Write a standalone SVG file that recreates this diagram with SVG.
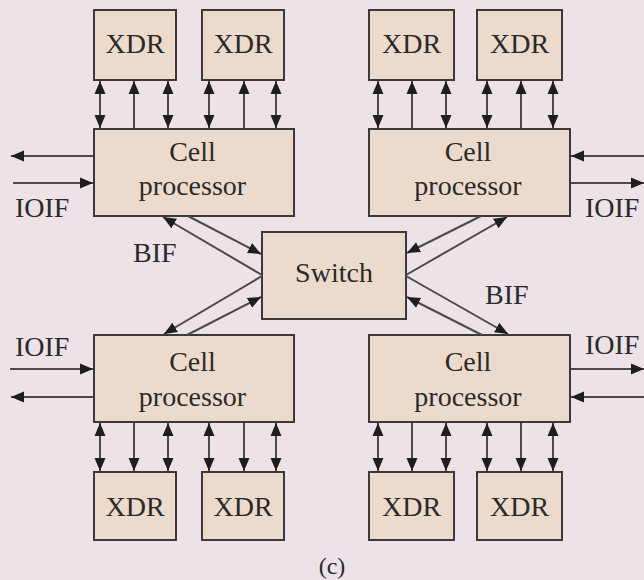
<svg xmlns="http://www.w3.org/2000/svg" width="644" height="580" viewBox="0 0 644 580">
<style>
.box{fill:#ecdbcc;stroke:#3a3a3a;stroke-width:2}
.t{font-family:"Liberation Serif","Times New Roman",serif;font-size:28px;fill:#2a2a2a;text-anchor:middle}
.l{font-family:"Liberation Serif","Times New Roman",serif;font-size:28px;fill:#2a2a2a}
.c{fill:none;stroke:#4a4a4a;stroke-width:2}
.d{marker-start:url(#ah);marker-end:url(#ah)}
.e{marker-end:url(#ah)}
</style>
<defs>
<marker id="ah" markerUnits="userSpaceOnUse" markerWidth="13" markerHeight="12" viewBox="0 0 13 12" refX="13" refY="6" orient="auto-start-reverse">
<path d="M0,0.5 L13,6 L0,11.5 z" fill="#1e1e1e"/>
</marker>
</defs>
<rect width="644" height="580" fill="#ece2e8"/>

<g id="xdr-tl1"><rect class="box" x="94" y="10" width="82" height="70"/><text class="t" x="135" y="53">XDR</text></g>
<g id="xdr-tl2"><rect class="box" x="202" y="10" width="82" height="70"/><text class="t" x="243" y="53">XDR</text></g>
<g id="xdr-tr1"><rect class="box" x="369" y="10" width="85" height="70"/><text class="t" x="411.5" y="53">XDR</text></g>
<g id="xdr-tr2"><rect class="box" x="477" y="10" width="85" height="70"/><text class="t" x="519.5" y="53">XDR</text></g>

<g id="cp-tl"><rect class="box" x="94" y="129" width="200" height="87"/><text class="t" x="192.5" y="161">Cell</text><text class="t" x="192.5" y="195">processor</text></g>
<g id="cp-tr"><rect class="box" x="369" y="129" width="201" height="87"/><text class="t" x="468" y="161">Cell</text><text class="t" x="468" y="195">processor</text></g>

<g id="switch"><rect class="box" x="262" y="232" width="144" height="87"/><text class="t" x="334" y="282">Switch</text></g>

<g id="cp-bl"><rect class="box" x="94" y="335" width="200" height="87"/><text class="t" x="192.5" y="371">Cell</text><text class="t" x="192.5" y="406">processor</text></g>
<g id="cp-br"><rect class="box" x="369" y="335" width="201" height="87"/><text class="t" x="468" y="371">Cell</text><text class="t" x="468" y="406">processor</text></g>

<g id="xdr-bl1"><rect class="box" x="94" y="472" width="82" height="68"/><text class="t" x="135" y="516">XDR</text></g>
<g id="xdr-bl2"><rect class="box" x="202" y="472" width="82" height="68"/><text class="t" x="243" y="516">XDR</text></g>
<g id="xdr-br1"><rect class="box" x="369" y="472" width="85" height="68"/><text class="t" x="411.5" y="516">XDR</text></g>
<g id="xdr-br2"><rect class="box" x="477" y="472" width="85" height="68"/><text class="t" x="519.5" y="516">XDR</text></g>

<g id="connectors">
<path class="c d" d="M100,81 L100,128"/>
<path class="c e" d="M134,128 L134,81"/>
<path class="c d" d="M168,81 L168,128"/>
<path class="c d" d="M209,81 L209,128"/>
<path class="c e" d="M244,128 L244,81"/>
<path class="c d" d="M276,81 L276,128"/>
<path class="c d" d="M378,81 L378,128"/>
<path class="c e" d="M412,128 L412,81"/>
<path class="c d" d="M446,81 L446,128"/>
<path class="c d" d="M487,81 L487,128"/>
<path class="c e" d="M521,128 L521,81"/>
<path class="c d" d="M553,81 L553,128"/>
<path class="c d" d="M100,423 L100,471"/>
<path class="c e" d="M134,423 L134,471"/>
<path class="c d" d="M168,423 L168,471"/>
<path class="c d" d="M209,423 L209,471"/>
<path class="c e" d="M244,423 L244,471"/>
<path class="c d" d="M276,423 L276,471"/>
<path class="c d" d="M378,423 L378,471"/>
<path class="c e" d="M412,423 L412,471"/>
<path class="c d" d="M446,423 L446,471"/>
<path class="c d" d="M487,423 L487,471"/>
<path class="c e" d="M521,423 L521,471"/>
<path class="c d" d="M553,423 L553,471"/>
<path class="c e" d="M93,156 L11,156"/>
<path class="c e" d="M13,183 L93,183"/>
<path class="c e" d="M644,156 L571,156"/>
<path class="c e" d="M571,183 L644,183"/>
<path class="c e" d="M10,369 L93,369"/>
<path class="c e" d="M93,397 L11,397"/>
<path class="c e" d="M571,369 L644,369"/>
<path class="c e" d="M644,397 L571,397"/>
<path class="c e" d="M262,275 L163,217"/>
<path class="c e" d="M188,216 L261,254"/>
<path class="c e" d="M262,276 L164,334"/>
<path class="c e" d="M187,335 L261,297"/>
<path class="c e" d="M406,275 L507,217"/>
<path class="c e" d="M481,216 L407,253"/>
<path class="c e" d="M406,276 L508,334"/>
<path class="c e" d="M482,335 L407,297"/>
</g>

<text class="l" x="15" y="217">IOIF</text>
<text class="l" x="585" y="217">IOIF</text>
<text class="l" x="15" y="356">IOIF</text>
<text class="l" x="585" y="354">IOIF</text>
<text class="l" x="133" y="262">BIF</text>
<text class="l" x="485" y="304">BIF</text>
<text class="t" x="332" y="574" style="font-size:24px">(c)</text>
</svg>
